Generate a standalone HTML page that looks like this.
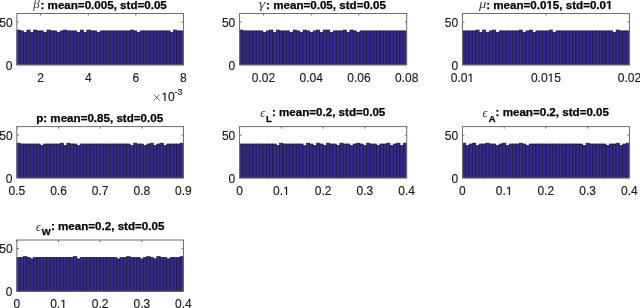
<!DOCTYPE html>
<html><head><meta charset="utf-8"><style>
html,body{margin:0;padding:0;background:#fff;width:640px;height:308px;overflow:hidden}
svg{display:block;filter:blur(0.35px)}
.t{font-family:"Liberation Sans",sans-serif;font-size:12px;fill:#1a1a1a;stroke:#1a1a1a;stroke-width:0.15px}
.ti{font-family:"Liberation Sans",sans-serif;font-size:11.6px;font-weight:bold;fill:#000;stroke:#000;stroke-width:0.25px}
.g{font-family:"Liberation Serif",serif;font-style:italic;font-size:13px;fill:#444}
.s{font-family:"Liberation Sans",sans-serif;font-size:9.5px;font-weight:bold;fill:#000;stroke:#000;stroke-width:0.25px}
.sup{font-size:9px}
.h1{fill-opacity:0;stroke-opacity:0}
.e{font-family:"Liberation Serif",serif;font-style:italic;font-size:12px;fill:#333}
</style></head><body>
<svg width="640" height="308" viewBox="0 0 640 308">
<rect width="640" height="308" fill="#fff"/>
<g fill="#352a87" stroke="#15123a" stroke-width="0.6"><rect x="16.85" y="30.02" width="3.33" height="34.83"/><rect x="20.18" y="30.87" width="3.33" height="33.98"/><rect x="23.51" y="32.33" width="3.33" height="32.52"/><rect x="26.85" y="30.02" width="3.33" height="34.83"/><rect x="30.18" y="32.33" width="3.33" height="32.52"/><rect x="33.51" y="30.02" width="3.33" height="34.83"/><rect x="36.84" y="30.87" width="3.33" height="33.98"/><rect x="40.17" y="30.87" width="3.33" height="33.98"/><rect x="43.51" y="32.33" width="3.33" height="32.52"/><rect x="46.84" y="30.02" width="3.33" height="34.83"/><rect x="50.17" y="30.87" width="3.33" height="33.98"/><rect x="53.5" y="30.87" width="3.33" height="33.98"/><rect x="56.83" y="32.33" width="3.33" height="32.52"/><rect x="60.17" y="30.87" width="3.33" height="33.98"/><rect x="63.5" y="30.02" width="3.33" height="34.83"/><rect x="66.83" y="30.87" width="3.33" height="33.98"/><rect x="70.16" y="30.87" width="3.33" height="33.98"/><rect x="73.49" y="30.87" width="3.33" height="33.98"/><rect x="76.83" y="32.33" width="3.33" height="32.52"/><rect x="80.16" y="30.02" width="3.33" height="34.83"/><rect x="83.49" y="32.33" width="3.33" height="32.52"/><rect x="86.82" y="30.02" width="3.33" height="34.83"/><rect x="90.15" y="30.87" width="3.33" height="33.98"/><rect x="93.49" y="30.87" width="3.33" height="33.98"/><rect x="96.82" y="32.33" width="3.33" height="32.52"/><rect x="100.15" y="30.87" width="3.33" height="33.98"/><rect x="103.48" y="30.87" width="3.33" height="33.98"/><rect x="106.81" y="30.87" width="3.33" height="33.98"/><rect x="110.15" y="30.87" width="3.33" height="33.98"/><rect x="113.48" y="30.87" width="3.33" height="33.98"/><rect x="116.81" y="30.87" width="3.33" height="33.98"/><rect x="120.14" y="30.87" width="3.33" height="33.98"/><rect x="123.47" y="30.87" width="3.33" height="33.98"/><rect x="126.81" y="30.87" width="3.33" height="33.98"/><rect x="130.14" y="30.02" width="3.33" height="34.83"/><rect x="133.47" y="30.87" width="3.33" height="33.98"/><rect x="136.8" y="32.33" width="3.33" height="32.52"/><rect x="140.13" y="30.87" width="3.33" height="33.98"/><rect x="143.47" y="30.87" width="3.33" height="33.98"/><rect x="146.8" y="30.87" width="3.33" height="33.98"/><rect x="150.13" y="30.87" width="3.33" height="33.98"/><rect x="153.46" y="30.87" width="3.33" height="33.98"/><rect x="156.79" y="30.87" width="3.33" height="33.98"/><rect x="160.13" y="30.87" width="3.33" height="33.98"/><rect x="163.46" y="30.87" width="3.33" height="33.98"/><rect x="166.79" y="30.87" width="3.33" height="33.98"/><rect x="170.12" y="32.33" width="3.33" height="32.52"/><rect x="173.45" y="30.02" width="3.33" height="34.83"/><rect x="176.79" y="30.87" width="3.33" height="33.98"/><rect x="180.12" y="30.87" width="3.33" height="33.98"/></g>
<rect x="16.85" y="13.5" width="166.6" height="51.35" fill="none" stroke="#6e6e6e" stroke-width="1"/>
<path d="M40.65 13.5v2.0M88.25 13.5v2.0M135.85 13.5v2.0M183.45 13.5v2.0M16.85 22.06h2.0M183.45 22.06h-2.0" stroke="#6e6e6e" stroke-width="1" fill="none"/>
<text x="40.65" y="81.85" text-anchor="middle" class="t">2</text>
<text x="88.25" y="81.85" text-anchor="middle" class="t">4</text>
<text x="135.85" y="81.85" text-anchor="middle" class="t">6</text>
<text x="183.45" y="81.85" text-anchor="middle" class="t">8</text>
<text x="12.55" y="69.75" text-anchor="end" class="t">0</text>
<text x="12.55" y="26.96" text-anchor="end" class="t">50</text>
<text transform="translate(33.15,8.3) scale(1.0,0.95)" class="g">β</text>
<text x="40.5" y="9" class="ti">: mean=0.005, std=0.05</text>
<path d="M153.9 94.6L159.6 100.5M159.6 94.6L153.9 100.5" stroke="#333" stroke-width="0.75" fill="none"/>
<text x="161.4" y="100.8" class="t"><tspan class="h1">1</tspan>0</text>
<text x="174.6" y="95.3" class="t sup">-3</text>
<g fill="#352a87" stroke="#15123a" stroke-width="0.6"><rect x="239.55" y="30.02" width="3.34" height="34.83"/><rect x="242.89" y="30.87" width="3.34" height="33.98"/><rect x="246.24" y="30.87" width="3.34" height="33.98"/><rect x="249.58" y="30.87" width="3.34" height="33.98"/><rect x="252.92" y="30.87" width="3.34" height="33.98"/><rect x="256.26" y="30.87" width="3.34" height="33.98"/><rect x="259.61" y="30.87" width="3.34" height="33.98"/><rect x="262.95" y="32.33" width="3.34" height="32.52"/><rect x="266.29" y="30.87" width="3.34" height="33.98"/><rect x="269.64" y="30.02" width="3.34" height="34.83"/><rect x="272.98" y="32.33" width="3.34" height="32.52"/><rect x="276.32" y="30.02" width="3.34" height="34.83"/><rect x="279.67" y="30.87" width="3.34" height="33.98"/><rect x="283.01" y="30.87" width="3.34" height="33.98"/><rect x="286.35" y="30.87" width="3.34" height="33.98"/><rect x="289.69" y="32.33" width="3.34" height="32.52"/><rect x="293.04" y="30.02" width="3.34" height="34.83"/><rect x="296.38" y="30.87" width="3.34" height="33.98"/><rect x="299.72" y="32.33" width="3.34" height="32.52"/><rect x="303.07" y="30.02" width="3.34" height="34.83"/><rect x="306.41" y="30.87" width="3.34" height="33.98"/><rect x="309.75" y="32.33" width="3.34" height="32.52"/><rect x="313.1" y="30.87" width="3.34" height="33.98"/><rect x="316.44" y="30.02" width="3.34" height="34.83"/><rect x="319.78" y="32.33" width="3.34" height="32.52"/><rect x="323.12" y="30.02" width="3.34" height="34.83"/><rect x="326.47" y="30.02" width="3.34" height="34.83"/><rect x="329.81" y="32.33" width="3.34" height="32.52"/><rect x="333.15" y="30.87" width="3.34" height="33.98"/><rect x="336.5" y="30.87" width="3.34" height="33.98"/><rect x="339.84" y="30.87" width="3.34" height="33.98"/><rect x="343.18" y="30.02" width="3.34" height="34.83"/><rect x="346.53" y="32.33" width="3.34" height="32.52"/><rect x="349.87" y="30.02" width="3.34" height="34.83"/><rect x="353.21" y="30.87" width="3.34" height="33.98"/><rect x="356.56" y="32.33" width="3.34" height="32.52"/><rect x="359.9" y="30.87" width="3.34" height="33.98"/><rect x="363.24" y="30.87" width="3.34" height="33.98"/><rect x="366.58" y="30.87" width="3.34" height="33.98"/><rect x="369.93" y="30.87" width="3.34" height="33.98"/><rect x="373.27" y="30.87" width="3.34" height="33.98"/><rect x="376.61" y="30.87" width="3.34" height="33.98"/><rect x="379.96" y="30.87" width="3.34" height="33.98"/><rect x="383.3" y="30.87" width="3.34" height="33.98"/><rect x="386.64" y="30.87" width="3.34" height="33.98"/><rect x="389.99" y="30.87" width="3.34" height="33.98"/><rect x="393.33" y="30.87" width="3.34" height="33.98"/><rect x="396.67" y="30.87" width="3.34" height="33.98"/><rect x="400.01" y="30.87" width="3.34" height="33.98"/><rect x="403.36" y="30.87" width="3.34" height="33.98"/></g>
<rect x="239.55" y="13.5" width="167.15" height="51.35" fill="none" stroke="#6e6e6e" stroke-width="1"/>
<path d="M263.43 13.5v2.0M311.19 13.5v2.0M358.94 13.5v2.0M406.7 13.5v2.0M239.55 22.06h2.0M406.7 22.06h-2.0" stroke="#6e6e6e" stroke-width="1" fill="none"/>
<text x="263.43" y="81.85" text-anchor="middle" class="t">0.02</text>
<text x="311.19" y="81.85" text-anchor="middle" class="t">0.04</text>
<text x="358.94" y="81.85" text-anchor="middle" class="t">0.06</text>
<text x="406.7" y="81.85" text-anchor="middle" class="t">0.08</text>
<text x="235.25" y="69.75" text-anchor="end" class="t">0</text>
<text x="235.25" y="26.96" text-anchor="end" class="t">50</text>
<text transform="translate(258.74,8.3) scale(1.25,0.92)" class="g">γ</text>
<text x="266.1" y="9" class="ti">: mean=0.05, std=0.05</text>
<g fill="#352a87" stroke="#15123a" stroke-width="0.6"><rect x="462.45" y="30.87" width="3.34" height="33.98"/><rect x="465.79" y="30.87" width="3.34" height="33.98"/><rect x="469.13" y="30.87" width="3.34" height="33.98"/><rect x="472.47" y="30.87" width="3.34" height="33.98"/><rect x="475.81" y="30.02" width="3.34" height="34.83"/><rect x="479.15" y="32.33" width="3.34" height="32.52"/><rect x="482.49" y="30.02" width="3.34" height="34.83"/><rect x="485.83" y="32.33" width="3.34" height="32.52"/><rect x="489.17" y="30.87" width="3.34" height="33.98"/><rect x="492.51" y="30.02" width="3.34" height="34.83"/><rect x="495.85" y="32.33" width="3.34" height="32.52"/><rect x="499.19" y="30.87" width="3.34" height="33.98"/><rect x="502.53" y="30.87" width="3.34" height="33.98"/><rect x="505.87" y="30.87" width="3.34" height="33.98"/><rect x="509.21" y="30.87" width="3.34" height="33.98"/><rect x="512.55" y="30.87" width="3.34" height="33.98"/><rect x="515.89" y="30.87" width="3.34" height="33.98"/><rect x="519.23" y="30.02" width="3.34" height="34.83"/><rect x="522.57" y="32.33" width="3.34" height="32.52"/><rect x="525.91" y="30.87" width="3.34" height="33.98"/><rect x="529.25" y="30.02" width="3.34" height="34.83"/><rect x="532.59" y="32.33" width="3.34" height="32.52"/><rect x="535.93" y="30.87" width="3.34" height="33.98"/><rect x="539.27" y="30.87" width="3.34" height="33.98"/><rect x="542.61" y="30.87" width="3.34" height="33.98"/><rect x="545.95" y="30.87" width="3.34" height="33.98"/><rect x="549.29" y="30.02" width="3.34" height="34.83"/><rect x="552.63" y="32.33" width="3.34" height="32.52"/><rect x="555.97" y="30.87" width="3.34" height="33.98"/><rect x="559.31" y="30.87" width="3.34" height="33.98"/><rect x="562.65" y="30.87" width="3.34" height="33.98"/><rect x="565.99" y="30.87" width="3.34" height="33.98"/><rect x="569.33" y="30.87" width="3.34" height="33.98"/><rect x="572.67" y="30.87" width="3.34" height="33.98"/><rect x="576.01" y="30.87" width="3.34" height="33.98"/><rect x="579.35" y="30.87" width="3.34" height="33.98"/><rect x="582.69" y="30.87" width="3.34" height="33.98"/><rect x="586.03" y="30.87" width="3.34" height="33.98"/><rect x="589.37" y="30.87" width="3.34" height="33.98"/><rect x="592.71" y="30.87" width="3.34" height="33.98"/><rect x="596.05" y="30.87" width="3.34" height="33.98"/><rect x="599.39" y="30.87" width="3.34" height="33.98"/><rect x="602.73" y="30.87" width="3.34" height="33.98"/><rect x="606.07" y="30.87" width="3.34" height="33.98"/><rect x="609.41" y="30.87" width="3.34" height="33.98"/><rect x="612.75" y="32.33" width="3.34" height="32.52"/><rect x="616.09" y="30.02" width="3.34" height="34.83"/><rect x="619.43" y="30.87" width="3.34" height="33.98"/><rect x="622.77" y="30.87" width="3.34" height="33.98"/><rect x="626.11" y="30.87" width="3.34" height="33.98"/></g>
<rect x="462.45" y="13.5" width="167" height="51.35" fill="none" stroke="#6e6e6e" stroke-width="1"/>
<path d="M462.45 13.5v2.0M545.95 13.5v2.0M629.45 13.5v2.0M462.45 22.06h2.0M629.45 22.06h-2.0" stroke="#6e6e6e" stroke-width="1" fill="none"/>
<text x="462.45" y="81.85" text-anchor="middle" class="t">0.0<tspan class="h1">1</tspan></text>
<text x="545.95" y="81.85" text-anchor="middle" class="t">0.0<tspan class="h1">1</tspan>5</text>
<text x="629.45" y="81.85" text-anchor="middle" class="t">0.02</text>
<text x="458.15" y="69.75" text-anchor="end" class="t">0</text>
<text x="458.15" y="26.96" text-anchor="end" class="t">50</text>
<text transform="translate(479.05,8.3) scale(1.13,0.9)" class="g">μ</text>
<text x="486.15" y="9" class="ti">: mean=0.0<tspan class="h1">1</tspan>5, std=0.0<tspan class="h1">1</tspan></text>
<g fill="#352a87" stroke="#15123a" stroke-width="0.6"><rect x="16.85" y="143.12" width="3.33" height="34.83"/><rect x="20.18" y="143.97" width="3.33" height="33.98"/><rect x="23.51" y="143.97" width="3.33" height="33.98"/><rect x="26.85" y="143.97" width="3.33" height="33.98"/><rect x="30.18" y="143.97" width="3.33" height="33.98"/><rect x="33.51" y="143.97" width="3.33" height="33.98"/><rect x="36.84" y="143.97" width="3.33" height="33.98"/><rect x="40.17" y="145.43" width="3.33" height="32.52"/><rect x="43.51" y="143.97" width="3.33" height="33.98"/><rect x="46.84" y="143.97" width="3.33" height="33.98"/><rect x="50.17" y="143.97" width="3.33" height="33.98"/><rect x="53.5" y="143.97" width="3.33" height="33.98"/><rect x="56.83" y="143.97" width="3.33" height="33.98"/><rect x="60.17" y="143.12" width="3.33" height="34.83"/><rect x="63.5" y="145.43" width="3.33" height="32.52"/><rect x="66.83" y="143.12" width="3.33" height="34.83"/><rect x="70.16" y="143.97" width="3.33" height="33.98"/><rect x="73.49" y="143.97" width="3.33" height="33.98"/><rect x="76.83" y="145.43" width="3.33" height="32.52"/><rect x="80.16" y="143.97" width="3.33" height="33.98"/><rect x="83.49" y="143.97" width="3.33" height="33.98"/><rect x="86.82" y="143.97" width="3.33" height="33.98"/><rect x="90.15" y="143.97" width="3.33" height="33.98"/><rect x="93.49" y="143.97" width="3.33" height="33.98"/><rect x="96.82" y="143.97" width="3.33" height="33.98"/><rect x="100.15" y="143.97" width="3.33" height="33.98"/><rect x="103.48" y="143.97" width="3.33" height="33.98"/><rect x="106.81" y="143.97" width="3.33" height="33.98"/><rect x="110.15" y="143.97" width="3.33" height="33.98"/><rect x="113.48" y="143.97" width="3.33" height="33.98"/><rect x="116.81" y="143.97" width="3.33" height="33.98"/><rect x="120.14" y="143.97" width="3.33" height="33.98"/><rect x="123.47" y="143.97" width="3.33" height="33.98"/><rect x="126.81" y="143.97" width="3.33" height="33.98"/><rect x="130.14" y="145.43" width="3.33" height="32.52"/><rect x="133.47" y="143.12" width="3.33" height="34.83"/><rect x="136.8" y="143.97" width="3.33" height="33.98"/><rect x="140.13" y="143.97" width="3.33" height="33.98"/><rect x="143.47" y="145.43" width="3.33" height="32.52"/><rect x="146.8" y="143.97" width="3.33" height="33.98"/><rect x="150.13" y="143.12" width="3.33" height="34.83"/><rect x="153.46" y="145.43" width="3.33" height="32.52"/><rect x="156.79" y="143.97" width="3.33" height="33.98"/><rect x="160.13" y="143.12" width="3.33" height="34.83"/><rect x="163.46" y="145.43" width="3.33" height="32.52"/><rect x="166.79" y="143.97" width="3.33" height="33.98"/><rect x="170.12" y="143.97" width="3.33" height="33.98"/><rect x="173.45" y="143.97" width="3.33" height="33.98"/><rect x="176.79" y="143.97" width="3.33" height="33.98"/><rect x="180.12" y="143.12" width="3.33" height="34.83"/></g>
<rect x="16.85" y="126.6" width="166.6" height="51.35" fill="none" stroke="#6e6e6e" stroke-width="1"/>
<path d="M16.85 126.6v2.0M58.5 126.6v2.0M100.15 126.6v2.0M141.8 126.6v2.0M183.45 126.6v2.0M16.85 135.16h2.0M183.45 135.16h-2.0" stroke="#6e6e6e" stroke-width="1" fill="none"/>
<text x="16.85" y="194.95" text-anchor="middle" class="t">0.5</text>
<text x="58.5" y="194.95" text-anchor="middle" class="t">0.6</text>
<text x="100.15" y="194.95" text-anchor="middle" class="t">0.7</text>
<text x="141.8" y="194.95" text-anchor="middle" class="t">0.8</text>
<text x="183.45" y="194.95" text-anchor="middle" class="t">0.9</text>
<text x="12.55" y="182.85" text-anchor="end" class="t">0</text>
<text x="12.55" y="140.06" text-anchor="end" class="t">50</text>
<text x="36.2" y="121.8" class="ti">p: mean=0.85, std=0.05</text>
<g fill="#352a87" stroke="#15123a" stroke-width="0.6"><rect x="239.55" y="143.97" width="3.34" height="33.98"/><rect x="242.89" y="143.97" width="3.34" height="33.98"/><rect x="246.24" y="143.97" width="3.34" height="33.98"/><rect x="249.58" y="143.97" width="3.34" height="33.98"/><rect x="252.92" y="143.97" width="3.34" height="33.98"/><rect x="256.26" y="143.97" width="3.34" height="33.98"/><rect x="259.61" y="143.97" width="3.34" height="33.98"/><rect x="262.95" y="143.97" width="3.34" height="33.98"/><rect x="266.29" y="143.97" width="3.34" height="33.98"/><rect x="269.64" y="143.97" width="3.34" height="33.98"/><rect x="272.98" y="143.97" width="3.34" height="33.98"/><rect x="276.32" y="145.43" width="3.34" height="32.52"/><rect x="279.67" y="143.12" width="3.34" height="34.83"/><rect x="283.01" y="143.97" width="3.34" height="33.98"/><rect x="286.35" y="143.97" width="3.34" height="33.98"/><rect x="289.69" y="143.97" width="3.34" height="33.98"/><rect x="293.04" y="143.97" width="3.34" height="33.98"/><rect x="296.38" y="143.97" width="3.34" height="33.98"/><rect x="299.72" y="143.97" width="3.34" height="33.98"/><rect x="303.07" y="145.43" width="3.34" height="32.52"/><rect x="306.41" y="143.12" width="3.34" height="34.83"/><rect x="309.75" y="143.97" width="3.34" height="33.98"/><rect x="313.1" y="145.43" width="3.34" height="32.52"/><rect x="316.44" y="143.12" width="3.34" height="34.83"/><rect x="319.78" y="143.97" width="3.34" height="33.98"/><rect x="323.12" y="145.43" width="3.34" height="32.52"/><rect x="326.47" y="143.12" width="3.34" height="34.83"/><rect x="329.81" y="143.97" width="3.34" height="33.98"/><rect x="333.15" y="143.97" width="3.34" height="33.98"/><rect x="336.5" y="145.43" width="3.34" height="32.52"/><rect x="339.84" y="143.12" width="3.34" height="34.83"/><rect x="343.18" y="143.97" width="3.34" height="33.98"/><rect x="346.53" y="143.97" width="3.34" height="33.98"/><rect x="349.87" y="145.43" width="3.34" height="32.52"/><rect x="353.21" y="143.97" width="3.34" height="33.98"/><rect x="356.56" y="143.12" width="3.34" height="34.83"/><rect x="359.9" y="143.97" width="3.34" height="33.98"/><rect x="363.24" y="145.43" width="3.34" height="32.52"/><rect x="366.58" y="143.12" width="3.34" height="34.83"/><rect x="369.93" y="143.97" width="3.34" height="33.98"/><rect x="373.27" y="143.97" width="3.34" height="33.98"/><rect x="376.61" y="145.43" width="3.34" height="32.52"/><rect x="379.96" y="143.97" width="3.34" height="33.98"/><rect x="383.3" y="143.97" width="3.34" height="33.98"/><rect x="386.64" y="143.12" width="3.34" height="34.83"/><rect x="389.99" y="145.43" width="3.34" height="32.52"/><rect x="393.33" y="143.97" width="3.34" height="33.98"/><rect x="396.67" y="143.12" width="3.34" height="34.83"/><rect x="400.01" y="145.43" width="3.34" height="32.52"/><rect x="403.36" y="143.12" width="3.34" height="34.83"/></g>
<rect x="239.55" y="126.6" width="167.15" height="51.35" fill="none" stroke="#6e6e6e" stroke-width="1"/>
<path d="M239.55 126.6v2.0M281.34 126.6v2.0M323.12 126.6v2.0M364.91 126.6v2.0M406.7 126.6v2.0M239.55 135.16h2.0M406.7 135.16h-2.0" stroke="#6e6e6e" stroke-width="1" fill="none"/>
<text x="239.55" y="194.95" text-anchor="middle" class="t">0</text>
<text x="281.34" y="194.95" text-anchor="middle" class="t">0.<tspan class="h1">1</tspan></text>
<text x="323.12" y="194.95" text-anchor="middle" class="t">0.2</text>
<text x="364.91" y="194.95" text-anchor="middle" class="t">0.3</text>
<text x="406.7" y="194.95" text-anchor="middle" class="t">0.4</text>
<text x="235.25" y="182.85" text-anchor="end" class="t">0</text>
<text x="235.25" y="140.06" text-anchor="end" class="t">50</text>
<text x="260.3" y="117.35" class="e">ϵ</text>
<text x="265.9" y="121.9" class="s">L</text>
<text x="271.88" y="116.45" class="ti">: mean=0.2, std=0.05</text>
<g fill="#352a87" stroke="#15123a" stroke-width="0.6"><rect x="462.45" y="143.12" width="3.34" height="34.83"/><rect x="465.79" y="145.43" width="3.34" height="32.52"/><rect x="469.13" y="143.97" width="3.34" height="33.98"/><rect x="472.47" y="143.12" width="3.34" height="34.83"/><rect x="475.81" y="145.43" width="3.34" height="32.52"/><rect x="479.15" y="143.97" width="3.34" height="33.98"/><rect x="482.49" y="143.97" width="3.34" height="33.98"/><rect x="485.83" y="143.12" width="3.34" height="34.83"/><rect x="489.17" y="143.97" width="3.34" height="33.98"/><rect x="492.51" y="143.97" width="3.34" height="33.98"/><rect x="495.85" y="145.43" width="3.34" height="32.52"/><rect x="499.19" y="143.97" width="3.34" height="33.98"/><rect x="502.53" y="143.12" width="3.34" height="34.83"/><rect x="505.87" y="145.43" width="3.34" height="32.52"/><rect x="509.21" y="143.97" width="3.34" height="33.98"/><rect x="512.55" y="143.97" width="3.34" height="33.98"/><rect x="515.89" y="143.97" width="3.34" height="33.98"/><rect x="519.23" y="143.12" width="3.34" height="34.83"/><rect x="522.57" y="143.97" width="3.34" height="33.98"/><rect x="525.91" y="145.43" width="3.34" height="32.52"/><rect x="529.25" y="143.97" width="3.34" height="33.98"/><rect x="532.59" y="143.97" width="3.34" height="33.98"/><rect x="535.93" y="143.97" width="3.34" height="33.98"/><rect x="539.27" y="143.97" width="3.34" height="33.98"/><rect x="542.61" y="143.97" width="3.34" height="33.98"/><rect x="545.95" y="143.97" width="3.34" height="33.98"/><rect x="549.29" y="143.97" width="3.34" height="33.98"/><rect x="552.63" y="143.97" width="3.34" height="33.98"/><rect x="555.97" y="143.97" width="3.34" height="33.98"/><rect x="559.31" y="143.97" width="3.34" height="33.98"/><rect x="562.65" y="143.97" width="3.34" height="33.98"/><rect x="565.99" y="143.97" width="3.34" height="33.98"/><rect x="569.33" y="143.97" width="3.34" height="33.98"/><rect x="572.67" y="143.97" width="3.34" height="33.98"/><rect x="576.01" y="143.97" width="3.34" height="33.98"/><rect x="579.35" y="143.97" width="3.34" height="33.98"/><rect x="582.69" y="145.43" width="3.34" height="32.52"/><rect x="586.03" y="143.12" width="3.34" height="34.83"/><rect x="589.37" y="143.97" width="3.34" height="33.98"/><rect x="592.71" y="143.97" width="3.34" height="33.98"/><rect x="596.05" y="143.97" width="3.34" height="33.98"/><rect x="599.39" y="143.97" width="3.34" height="33.98"/><rect x="602.73" y="143.97" width="3.34" height="33.98"/><rect x="606.07" y="145.43" width="3.34" height="32.52"/><rect x="609.41" y="143.97" width="3.34" height="33.98"/><rect x="612.75" y="143.97" width="3.34" height="33.98"/><rect x="616.09" y="143.12" width="3.34" height="34.83"/><rect x="619.43" y="145.43" width="3.34" height="32.52"/><rect x="622.77" y="143.97" width="3.34" height="33.98"/><rect x="626.11" y="143.12" width="3.34" height="34.83"/></g>
<rect x="462.45" y="126.6" width="167" height="51.35" fill="none" stroke="#6e6e6e" stroke-width="1"/>
<path d="M462.45 126.6v2.0M504.2 126.6v2.0M545.95 126.6v2.0M587.7 126.6v2.0M629.45 126.6v2.0M462.45 135.16h2.0M629.45 135.16h-2.0" stroke="#6e6e6e" stroke-width="1" fill="none"/>
<text x="462.45" y="194.95" text-anchor="middle" class="t">0</text>
<text x="504.2" y="194.95" text-anchor="middle" class="t">0.<tspan class="h1">1</tspan></text>
<text x="545.95" y="194.95" text-anchor="middle" class="t">0.2</text>
<text x="587.7" y="194.95" text-anchor="middle" class="t">0.3</text>
<text x="629.45" y="194.95" text-anchor="middle" class="t">0.4</text>
<text x="458.15" y="182.85" text-anchor="end" class="t">0</text>
<text x="458.15" y="140.06" text-anchor="end" class="t">50</text>
<text x="482.6" y="117.35" class="e">ϵ</text>
<text x="488.85" y="121.9" class="s">A</text>
<text x="495.57" y="116.45" class="ti">: mean=0.2, std=0.05</text>
<g fill="#352a87" stroke="#15123a" stroke-width="0.6"><rect x="16.85" y="257.37" width="3.33" height="33.98"/><rect x="20.18" y="257.37" width="3.33" height="33.98"/><rect x="23.51" y="256.52" width="3.33" height="34.83"/><rect x="26.85" y="257.37" width="3.33" height="33.98"/><rect x="30.18" y="258.83" width="3.33" height="32.52"/><rect x="33.51" y="257.37" width="3.33" height="33.98"/><rect x="36.84" y="257.37" width="3.33" height="33.98"/><rect x="40.17" y="257.37" width="3.33" height="33.98"/><rect x="43.51" y="257.37" width="3.33" height="33.98"/><rect x="46.84" y="257.37" width="3.33" height="33.98"/><rect x="50.17" y="257.37" width="3.33" height="33.98"/><rect x="53.5" y="257.37" width="3.33" height="33.98"/><rect x="56.83" y="257.37" width="3.33" height="33.98"/><rect x="60.17" y="257.37" width="3.33" height="33.98"/><rect x="63.5" y="257.37" width="3.33" height="33.98"/><rect x="66.83" y="257.37" width="3.33" height="33.98"/><rect x="70.16" y="257.37" width="3.33" height="33.98"/><rect x="73.49" y="256.52" width="3.33" height="34.83"/><rect x="76.83" y="258.83" width="3.33" height="32.52"/><rect x="80.16" y="257.37" width="3.33" height="33.98"/><rect x="83.49" y="257.37" width="3.33" height="33.98"/><rect x="86.82" y="257.37" width="3.33" height="33.98"/><rect x="90.15" y="257.37" width="3.33" height="33.98"/><rect x="93.49" y="257.37" width="3.33" height="33.98"/><rect x="96.82" y="257.37" width="3.33" height="33.98"/><rect x="100.15" y="257.37" width="3.33" height="33.98"/><rect x="103.48" y="257.37" width="3.33" height="33.98"/><rect x="106.81" y="257.37" width="3.33" height="33.98"/><rect x="110.15" y="257.37" width="3.33" height="33.98"/><rect x="113.48" y="257.37" width="3.33" height="33.98"/><rect x="116.81" y="258.83" width="3.33" height="32.52"/><rect x="120.14" y="257.37" width="3.33" height="33.98"/><rect x="123.47" y="257.37" width="3.33" height="33.98"/><rect x="126.81" y="256.52" width="3.33" height="34.83"/><rect x="130.14" y="257.37" width="3.33" height="33.98"/><rect x="133.47" y="257.37" width="3.33" height="33.98"/><rect x="136.8" y="257.37" width="3.33" height="33.98"/><rect x="140.13" y="258.83" width="3.33" height="32.52"/><rect x="143.47" y="257.37" width="3.33" height="33.98"/><rect x="146.8" y="256.52" width="3.33" height="34.83"/><rect x="150.13" y="257.37" width="3.33" height="33.98"/><rect x="153.46" y="258.83" width="3.33" height="32.52"/><rect x="156.79" y="256.52" width="3.33" height="34.83"/><rect x="160.13" y="257.37" width="3.33" height="33.98"/><rect x="163.46" y="257.37" width="3.33" height="33.98"/><rect x="166.79" y="258.83" width="3.33" height="32.52"/><rect x="170.12" y="257.37" width="3.33" height="33.98"/><rect x="173.45" y="257.37" width="3.33" height="33.98"/><rect x="176.79" y="257.37" width="3.33" height="33.98"/><rect x="180.12" y="256.52" width="3.33" height="34.83"/></g>
<rect x="16.85" y="240" width="166.6" height="51.35" fill="none" stroke="#6e6e6e" stroke-width="1"/>
<path d="M16.85 240v2.0M58.5 240v2.0M100.15 240v2.0M141.8 240v2.0M183.45 240v2.0M16.85 248.56h2.0M183.45 248.56h-2.0" stroke="#6e6e6e" stroke-width="1" fill="none"/>
<text x="16.85" y="308.35" text-anchor="middle" class="t">0</text>
<text x="58.5" y="308.35" text-anchor="middle" class="t">0.<tspan class="h1">1</tspan></text>
<text x="100.15" y="308.35" text-anchor="middle" class="t">0.2</text>
<text x="141.8" y="308.35" text-anchor="middle" class="t">0.3</text>
<text x="183.45" y="308.35" text-anchor="middle" class="t">0.4</text>
<text x="12.55" y="296.25" text-anchor="end" class="t">0</text>
<text x="12.55" y="253.46" text-anchor="end" class="t">50</text>
<text x="36" y="230.5" class="e">ϵ</text>
<text x="41.8" y="235.3" class="s">W</text>
<text x="50.95" y="229.6" class="ti">: mean=0.2, std=0.05</text>
<path transform="translate(161.4,101) scale(0.005859,-0.005859)" d="M515 0L696 0L696 1409L530 1409L197 1180L197 1010L515 1237Z" fill="#1a1a1a" stroke="#1a1a1a" stroke-width="25.6"/>
<path transform="translate(467.45,82) scale(0.005859,-0.005859)" d="M515 0L696 0L696 1409L530 1409L197 1180L197 1010L515 1237Z" fill="#1a1a1a" stroke="#1a1a1a" stroke-width="25.6"/>
<path transform="translate(547.61,82) scale(0.005859,-0.005859)" d="M515 0L696 0L696 1409L530 1409L197 1180L197 1010L515 1237Z" fill="#1a1a1a" stroke="#1a1a1a" stroke-width="25.6"/>
<path transform="translate(546.42,9) scale(0.005664,-0.005664)" d="M478 0L759 0L759 1409L493 1409L140 1180L140 959L478 1170Z" fill="#000" stroke="#000" stroke-width="44.1"/>
<path transform="translate(606.04,9) scale(0.005664,-0.005664)" d="M478 0L759 0L759 1409L493 1409L140 1180L140 959L478 1170Z" fill="#000" stroke="#000" stroke-width="44.1"/>
<path transform="translate(283,195) scale(0.005859,-0.005859)" d="M515 0L696 0L696 1409L530 1409L197 1180L197 1010L515 1237Z" fill="#1a1a1a" stroke="#1a1a1a" stroke-width="25.6"/>
<path transform="translate(505.86,195) scale(0.005859,-0.005859)" d="M515 0L696 0L696 1409L530 1409L197 1180L197 1010L515 1237Z" fill="#1a1a1a" stroke="#1a1a1a" stroke-width="25.6"/>
<path transform="translate(60.16,308) scale(0.005859,-0.005859)" d="M515 0L696 0L696 1409L530 1409L197 1180L197 1010L515 1237Z" fill="#1a1a1a" stroke="#1a1a1a" stroke-width="25.6"/>
</svg></body></html>
